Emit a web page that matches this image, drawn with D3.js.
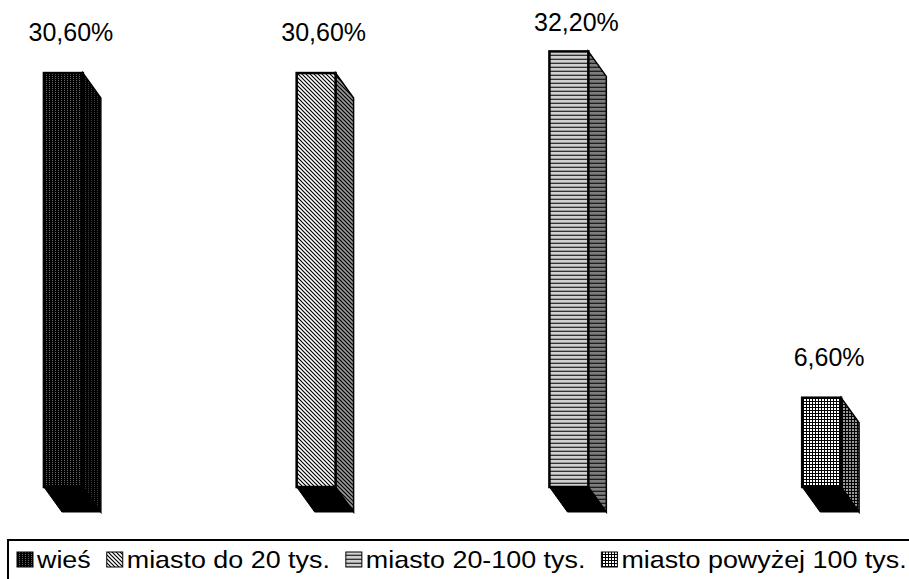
<!DOCTYPE html>
<html>
<head>
<meta charset="utf-8">
<script src="https://cdn.jsdelivr.net/npm/d3@7"></script>
<style>
  body { margin: 0; background: #fff; }
  svg { display: block; font-family: Arial, "Liberation Sans", sans-serif; }
</style>
</head>
<body>
<svg width="909" height="579"></svg>
<script>
// dane wykresu
const categories = ["wieś", "miasto do 20 tys.", "miasto 20-100 tys.", "miasto powyżej 100 tys."];
const values = [30.6, 30.6, 32.2, 6.6];
const valueLabels = ["30,60%", "30,60%", "32,20%", "6,60%"];
const patternIds = ["pWies", "pDo20", "p20100", "pPow100"];

const svg = d3.select("svg");
const depth = {dx: 18, dy: 25};

// wzory wypełnienia
const defs = svg.append("defs");

function makePattern(id, w, h, build) {
   const p = defs.append("pattern")
      .attr("id", id)
      .attr("patternUnits", "userSpaceOnUse")
      .attr("width", w)
      .attr("height", h);
   build(p);
}

makePattern("pWies", 3, 2, p => {
   p.append("rect").attr("width", 3).attr("height", 2).attr("fill", "#000");
   p.append("rect").attr("x", 1).attr("width", 1).attr("height", 1).attr("fill", "#666");
});
makePattern("pDo20", 4, 4, p => {
   p.append("rect").attr("width", 4).attr("height", 4).attr("fill", "#fff");
   p.append("path").attr("d", "M-1,-1 L5,5 M-1,3 L1,5 M3,-1 L5,1")
      .attr("stroke", "#000").attr("stroke-width", 1.2);
});
makePattern("p20100", 4, 4, p => {
   p.append("rect").attr("width", 4).attr("height", 4).attr("fill", "#d0d0d0");
   p.append("rect").attr("y", 3).attr("width", 4).attr("height", 1).attr("fill", "#333");
   p.append("rect").attr("y", 2).attr("width", 4).attr("height", 1).attr("fill", "#999");
});
makePattern("pPow100", 3, 3, p => {
   p.append("rect").attr("width", 3).attr("height", 3).attr("fill", "#000");
   p.append("rect").attr("width", 2).attr("height", 2).attr("fill", "#fff");
});

// skale
const scX = d3.scaleBand()
   .domain(categories)
   .range([-63, 948])
   .paddingInner(0.846)
   .paddingOuter(0.423);

const scY = d3.scaleLinear()
   .domain([0, 36])
   .range([487, 0]);

const y0 = scY(0);
const bars = svg.append("g");

categories.forEach((c, i) => {
   const x0 = scX(c);
   const x1 = x0 + scX.bandwidth();
   const yt = scY(values[i]);
   const fill = `url(#${patternIds[i]})`;

   // bok
   const side = [[x1, yt], [x1 + depth.dx, yt + depth.dy], [x1 + depth.dx, y0 + depth.dy], [x1, y0]];
   bars.append("polygon").attr("points", side.join(" ")).attr("fill", fill);
   bars.append("polygon").attr("points", side.join(" "))
      .attr("fill", "#000").attr("fill-opacity", 0.4)
      .attr("stroke", "#000").attr("stroke-width", 1.5);

   // przód
   bars.append("rect")
      .attr("x", x0).attr("y", yt)
      .attr("width", x1 - x0).attr("height", y0 - yt)
      .attr("fill", fill)
      .attr("stroke", "#000").attr("stroke-width", 2.5);

   // spód
   const bottom = [[x0, y0], [x1, y0], [x1 + depth.dx, y0 + depth.dy], [x0 + depth.dx, y0 + depth.dy]];
   bars.append("polygon").attr("points", bottom.join(" "))
      .attr("fill", "#000").attr("stroke", "#000").attr("stroke-width", 1);

   // etykieta (nie wychodzi poza obszar wykresu)
   svg.append("text")
      .attr("x", x0 + 27)
      .attr("y", Math.max(yt - 32, 31))
      .attr("text-anchor", "middle")
      .style("font-size", "25px")
      .text(valueLabels[i]);
});

// legenda
svg.append("rect")
   .attr("x", 8).attr("y", 540)
   .attr("width", 930).attr("height", 80)
   .attr("fill", "none")
   .attr("stroke", "#000").attr("stroke-width", 2);

const stretch = 1.12;
let lx = 17;
categories.forEach((c, i) => {
   svg.append("rect")
      .attr("x", lx).attr("y", 552)
      .attr("width", 16).attr("height", 15)
      .attr("fill", `url(#${patternIds[i]})`)
      .attr("stroke", "#000").attr("stroke-width", 1);
   const t = svg.append("text")
      .attr("transform", `translate(${lx + 20}, 568) scale(${stretch}, 1)`)
      .style("font-size", "24px")
      .text(c);
   lx += 20 + t.node().getComputedTextLength() * stretch + 16;
});
</script>
</body>
</html>
